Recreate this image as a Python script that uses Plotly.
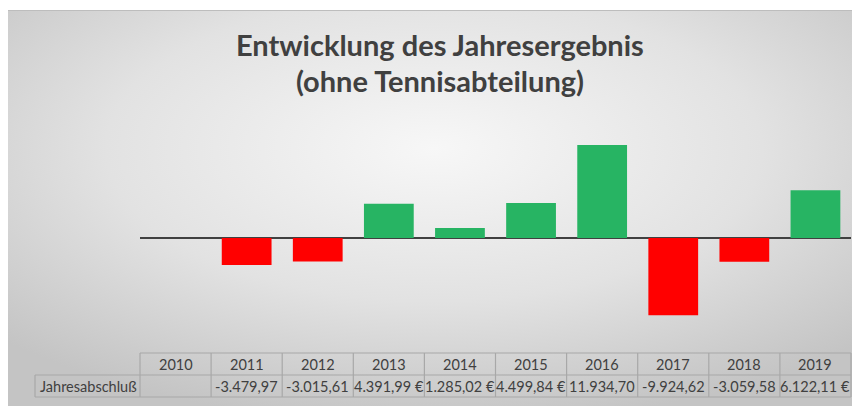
import base64
import plotly.graph_objects as go

years = ["2010", "2011", "2012", "2013", "2014", "2015", "2016", "2017", "2018", "2019"]
values = [None, -3479.97, -3015.61, 4391.99, 1285.02, 4499.84, 11934.70, -9924.62, -3059.58, 6122.11]
row_label = "Jahresabschluß"
title_lines = ["Entwicklung des Jahresergebnis", "(ohne Tennisabteilung)"]

GREEN = "#27B463"
RED = "#FF0000"
TXT = "#404040"
GRID = "#A8A8A8"
FONT = "Lato"


def fmt(v):
    if v is None:
        return ""
    s = f"{abs(v):,.2f}".replace(",", "X").replace(".", ",").replace("X", ".")
    s = ("-" if v < 0 else "") + s + " €"
    if len(s) > 10:  # cell too narrow: currency sign cut off (as in Excel)
        s = s[:-2]
    return s


colors = [GREEN if (v is not None and v >= 0) else RED for v in values]

fig = go.Figure()
fig.add_trace(go.Bar(
    x=years, y=values, marker=dict(color=colors, line=dict(width=0)),
    width=0.7, showlegend=False, hoverinfo="x+y",
))

# background gradient (radial, Excel style)
svg = (
    '<svg xmlns="http://www.w3.org/2000/svg" width="1000" height="1000" preserveAspectRatio="none" viewBox="0 0 1000 1000">'
    '<defs><radialGradient id="g" cx="50%" cy="35%" r="70%">'
    '<stop offset="0" stop-color="#f7f7f7"/>'
    '<stop offset="0.55" stop-color="#e2e2e2"/>'
    '<stop offset="1" stop-color="#c4c4c4"/>'
    '</radialGradient></defs>'
    '<rect width="1000" height="1000" fill="url(#g)"/></svg>'
)
src = "data:image/svg+xml;base64," + base64.b64encode(svg.encode()).decode()

OFF = 8  # page body margin in the browser
W, H = 860 - OFF, 406 - OFF
# plot area in page pixels: x 140..851, y 100..340
P_L, P_R, P_T, P_B = 140, 851, 100, 340
ml, mr = P_L - OFF, W - (P_R - OFF)
mt, mb = P_T - OFF, H - (P_B - OFF)
pw, ph = P_R - P_L, P_B - P_T


def px2x(px):
    return (px - P_L) / pw


def py2y(py):
    return (P_B - py) / ph


fig.add_layout_image(dict(
    source=src, xref="paper", yref="paper",
    x=px2x(OFF), y=py2y(10), sizex=px2x(860) - px2x(OFF), sizey=py2y(10) - py2y(406),
    sizing="stretch", layer="below", xanchor="left", yanchor="top",
))

shapes = []
shapes.append(dict(type="line", xref="paper", yref="paper", x0=px2x(OFF), x1=px2x(860),
                   y0=py2y(10.5), y1=py2y(10.5), line=dict(color="#bdbdbd", width=1)))

# data table grid
y_top, y_mid, y_bot = py2y(353), py2y(375), py2y(397)
x_lab = px2x(35)
n = len(years)
shapes.append(dict(type="line", xref="paper", yref="paper", x0=0, x1=1, y0=y_top, y1=y_top,
                   line=dict(color=GRID, width=1.2)))
for yy in (y_mid, y_bot):
    shapes.append(dict(type="line", xref="paper", yref="paper", x0=x_lab, x1=1, y0=yy, y1=yy,
                       line=dict(color=GRID, width=1.2)))
for i in range(n + 1):
    shapes.append(dict(type="line", xref="paper", yref="paper", x0=i / n, x1=i / n,
                       y0=y_top, y1=y_bot, line=dict(color=GRID, width=1.2)))
shapes.append(dict(type="line", xref="paper", yref="paper", x0=x_lab, x1=x_lab,
                   y0=y_mid, y1=y_bot, line=dict(color=GRID, width=1.2)))

annotations = []
for k, line in enumerate(title_lines):
    annotations.append(dict(text=f"<b>{line}</b>", xref="paper", yref="paper",
                            x=px2x(440), y=py2y(45 + 35 * k), showarrow=False,
                            xanchor="center", yanchor="middle",
                            font=dict(family=FONT, size=29, color=TXT)))
for i, (yr, v) in enumerate(zip(years, values)):
    annotations.append(dict(text=yr, x=i, xref="x", yref="paper", y=(y_top + y_mid) / 2,
                            showarrow=False, xanchor="center", yanchor="middle",
                            font=dict(family=FONT, size=14.5, color=TXT)))
    annotations.append(dict(text=fmt(v), x=i, xref="x", yref="paper", y=(y_mid + y_bot) / 2,
                            showarrow=False, xanchor="center", yanchor="middle",
                            font=dict(family=FONT, size=14.5, color=TXT)))
annotations.append(dict(text=row_label, xref="paper", yref="paper", x=px2x(38),
                        y=(y_mid + y_bot) / 2, showarrow=False, xanchor="left", yanchor="middle",
                        font=dict(family=FONT, size=14.5, color=TXT)))

baseline_py = 238
scale = (baseline_py - 145) / 11934.70  # px per unit
ymax = (baseline_py - P_T) / scale
ymin = -(P_B - baseline_py) / scale

fig.update_layout(
    width=W, height=H,
    margin=dict(l=ml, r=mr, t=mt, b=mb),
    paper_bgcolor="white", plot_bgcolor="rgba(0,0,0,0)",
    bargap=0.3,
    xaxis=dict(type="category", categoryorder="array", categoryarray=years,
               range=[-0.5, len(years) - 0.5], autorange=False,
               showticklabels=False, showgrid=False, zeroline=False,
               showline=False, ticks="", fixedrange=True),
    yaxis=dict(range=[ymin, ymax], showticklabels=False, showgrid=False, zeroline=True,
               zerolinecolor="#404040", zerolinewidth=2, showline=False, ticks="",
               fixedrange=True),
    shapes=shapes, annotations=annotations,
    font=dict(family=FONT, color=TXT),
)

fig.write_html("out.html")
